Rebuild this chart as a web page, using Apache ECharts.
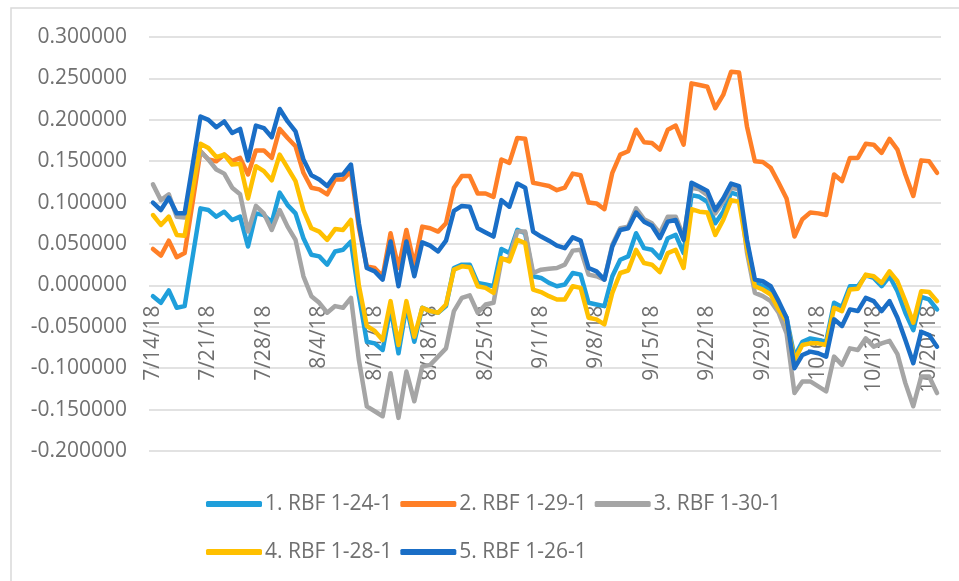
<!DOCTYPE html>
<html>
<head>
<meta charset="utf-8">
<script src="https://cdn.jsdelivr.net/npm/echarts@6/dist/echarts.min.js"></script>
<style>
html,body{margin:0;padding:0;background:#fff;}
#chart{width:959px;height:581px;}
</style>
</head>
<body>
<div id="chart"></div>
<script>
// 100 consecutive days: 7/14/18 .. 10/21/18
var startDate = new Date(2018, 6, 14);
var dayCount = 100;
var categories = [];
for (var d = 0; d < dayCount; d++) {
  var dt = new Date(startDate.getFullYear(), startDate.getMonth(), startDate.getDate() + d);
  categories.push((dt.getMonth() + 1) + '/' + dt.getDate() + '/18');
}

var seriesNames = ['1. RBF 1-24-1', '2. RBF 1-29-1', '3. RBF 1-30-1', '4. RBF 1-28-1', '5. RBF 1-26-1'];

var rbf_1_24_1 = [-0.013,-0.021,-0.006,-0.027,-0.025,0.034,0.093,0.091,0.083,0.089,
0.079,0.083,0.047,0.087,0.085,0.076,0.112,0.097,0.087,0.057,
0.037,0.035,0.025,0.041,0.043,0.053,-0.012,-0.068,-0.070,-0.078,
-0.027,-0.082,-0.025,-0.068,-0.027,-0.031,-0.033,-0.025,0.021,0.025,
0.025,0.003,0.001,-0.001,0.044,0.039,0.067,0.063,0.011,0.009,
0.003,-0.001,0.001,0.015,0.013,-0.021,-0.023,-0.025,0.011,0.031,
0.035,0.063,0.045,0.043,0.033,0.057,0.061,0.039,0.109,0.107,
0.101,0.075,0.089,0.112,0.109,0.052,0.003,-0.001,-0.005,-0.023,
-0.039,-0.086,-0.068,-0.064,-0.066,-0.068,-0.021,-0.026,-0.001,-0.001,
0.012,0.009,-0.001,0.011,-0.007,-0.033,-0.054,-0.014,-0.017,-0.029];

var rbf_1_29_1 = [0.044,0.036,0.054,0.034,0.039,0.100,0.162,0.152,0.150,0.158,
0.150,0.154,0.134,0.163,0.163,0.154,0.189,0.178,0.168,0.136,
0.118,0.116,0.110,0.128,0.128,0.138,0.070,0.023,0.021,0.011,
0.063,0.021,0.067,0.025,0.071,0.069,0.065,0.075,0.118,0.132,
0.132,0.111,0.111,0.107,0.152,0.148,0.178,0.177,0.124,0.122,
0.120,0.115,0.118,0.135,0.133,0.100,0.099,0.092,0.136,0.158,
0.162,0.188,0.173,0.172,0.164,0.188,0.193,0.170,0.244,0.242,
0.240,0.214,0.230,0.258,0.257,0.192,0.150,0.149,0.142,0.124,
0.105,0.059,0.080,0.088,0.087,0.085,0.134,0.126,0.154,0.154,
0.171,0.170,0.160,0.177,0.164,0.134,0.108,0.151,0.150,0.136];

var rbf_1_30_1 = [0.122,0.103,0.110,0.083,0.082,0.122,0.162,0.152,0.140,0.135,
0.118,0.110,0.065,0.096,0.087,0.067,0.091,0.071,0.055,0.011,
-0.013,-0.021,-0.033,-0.025,-0.027,-0.015,-0.090,-0.146,-0.152,-0.158,
-0.106,-0.160,-0.104,-0.140,-0.098,-0.096,-0.086,-0.076,-0.031,-0.015,
-0.012,-0.033,-0.023,-0.021,0.031,0.033,0.065,0.065,0.015,0.019,
0.020,0.021,0.025,0.042,0.043,0.013,0.011,0.007,0.049,0.069,
0.071,0.093,0.080,0.075,0.063,0.083,0.083,0.059,0.118,0.116,
0.109,0.087,0.101,0.118,0.116,0.040,-0.009,-0.013,-0.019,-0.033,
-0.058,-0.130,-0.116,-0.116,-0.122,-0.128,-0.086,-0.096,-0.076,-0.078,
-0.064,-0.074,-0.070,-0.067,-0.083,-0.118,-0.146,-0.110,-0.110,-0.130];

var rbf_1_28_1 = [0.085,0.073,0.083,0.061,0.060,0.115,0.171,0.166,0.155,0.158,
0.146,0.147,0.105,0.144,0.138,0.127,0.158,0.142,0.126,0.091,
0.069,0.065,0.055,0.068,0.067,0.079,0.000,-0.049,-0.055,-0.066,
-0.019,-0.072,-0.019,-0.062,-0.027,-0.031,-0.033,-0.023,0.019,0.023,
0.022,-0.001,-0.003,-0.009,0.033,0.029,0.055,0.051,-0.005,-0.008,
-0.013,-0.017,-0.017,-0.001,-0.003,-0.039,-0.041,-0.047,-0.009,0.015,
0.018,0.043,0.027,0.025,0.016,0.039,0.043,0.021,0.092,0.089,
0.088,0.061,0.079,0.103,0.101,0.045,-0.001,-0.005,-0.011,-0.029,
-0.043,-0.090,-0.072,-0.070,-0.070,-0.072,-0.027,-0.031,-0.005,-0.004,
0.013,0.011,0.003,0.017,0.005,-0.019,-0.045,-0.007,-0.008,-0.019];

var rbf_1_26_1 = [0.100,0.091,0.106,0.087,0.087,0.145,0.204,0.200,0.191,0.198,
0.184,0.189,0.151,0.193,0.190,0.179,0.213,0.198,0.186,0.152,
0.133,0.128,0.120,0.133,0.134,0.146,0.075,0.021,0.017,0.007,
0.053,-0.001,0.053,0.011,0.052,0.048,0.041,0.054,0.090,0.096,
0.095,0.069,0.064,0.059,0.103,0.095,0.123,0.118,0.065,0.059,
0.054,0.048,0.045,0.058,0.054,0.021,0.017,0.007,0.047,0.067,
0.069,0.088,0.077,0.072,0.057,0.077,0.079,0.055,0.124,0.119,
0.114,0.091,0.105,0.123,0.120,0.055,0.007,0.005,-0.001,-0.019,
-0.039,-0.100,-0.084,-0.080,-0.082,-0.086,-0.041,-0.049,-0.029,-0.031,
-0.015,-0.019,-0.031,-0.019,-0.039,-0.066,-0.094,-0.056,-0.060,-0.074];

var seriesValues = [rbf_1_24_1, rbf_1_29_1, rbf_1_30_1, rbf_1_28_1, rbf_1_26_1];
var seriesColors = ['#1F9FDB', '#FF7F27', '#A5A5A5', '#FFC000', '#1A6EC6'];

var yMin = -0.2, yMax = 0.3, yStep = 0.05;
var textColor = '#707070';
var gridColor = '#D9D9D9';
var fontFam = '"Open Sans", "Liberation Sans", sans-serif';

var gridTop = 37, gridBottom = 130, chartH = 581;
var plotH = chartH - gridTop - gridBottom;
// place the category axis on the zero line of the value axis
var zeroOffset = -plotH * (0 - yMin) / (yMax - yMin);

var chart = echarts.init(document.getElementById('chart'), null, {renderer: 'canvas'});

var series = seriesNames.map(function (name, k) {
  return {
    name: name,
    type: 'line',
    data: seriesValues[k],
    showSymbol: false,
    symbol: 'none',
    smooth: false,
    animation: false,
    lineStyle: {color: seriesColors[k], width: 4.5, cap: 'round', join: 'round'},
    itemStyle: {color: seriesColors[k]},
    emphasis: {disabled: true}
  };
});

chart.setOption({
  animation: false,
  backgroundColor: '#ffffff',
  graphic: [{
    type: 'rect',
    shape: {x: 11, y: 8, width: 960, height: 590},
    style: {fill: 'none', stroke: gridColor, lineWidth: 1.5},
    silent: true,
    z: -10
  }],
  grid: {left: 149, right: 18, top: gridTop, bottom: gridBottom, containLabel: false},
  legend: {
    data: seriesNames,
    left: 206,
    top: 484,
    padding: 0,
    width: 610,
    orient: 'horizontal',
    icon: 'roundRect',
    itemWidth: 56,
    itemHeight: 6,
    itemGap: 8,
    textStyle: {color: textColor, fontSize: 21, fontFamily: fontFam, lineHeight: 40, padding: [0, 0, 0, -2]},
    selectedMode: false
  },
  xAxis: {
    type: 'category',
    data: categories,
    boundaryGap: true,
    offset: zeroOffset,
    axisLine: {show: false, onZero: false},
    axisTick: {show: false},
    splitLine: {show: false},
    axisLabel: {
      interval: 6,
      rotate: 90,
      margin: 20,
      color: textColor,
      fontSize: 21,
      fontFamily: fontFam
    }
  },
  yAxis: {
    type: 'value',
    min: yMin,
    max: yMax,
    interval: yStep,
    axisLine: {show: false},
    axisTick: {show: false},
    splitLine: {show: true, lineStyle: {color: gridColor, width: 1.5}},
    axisLabel: {
      margin: 22,
      color: textColor,
      fontSize: 21,
      fontFamily: fontFam,
      formatter: function (v) { return v.toFixed(6); }
    }
  },
  series: series
});
</script>
</body>
</html>
